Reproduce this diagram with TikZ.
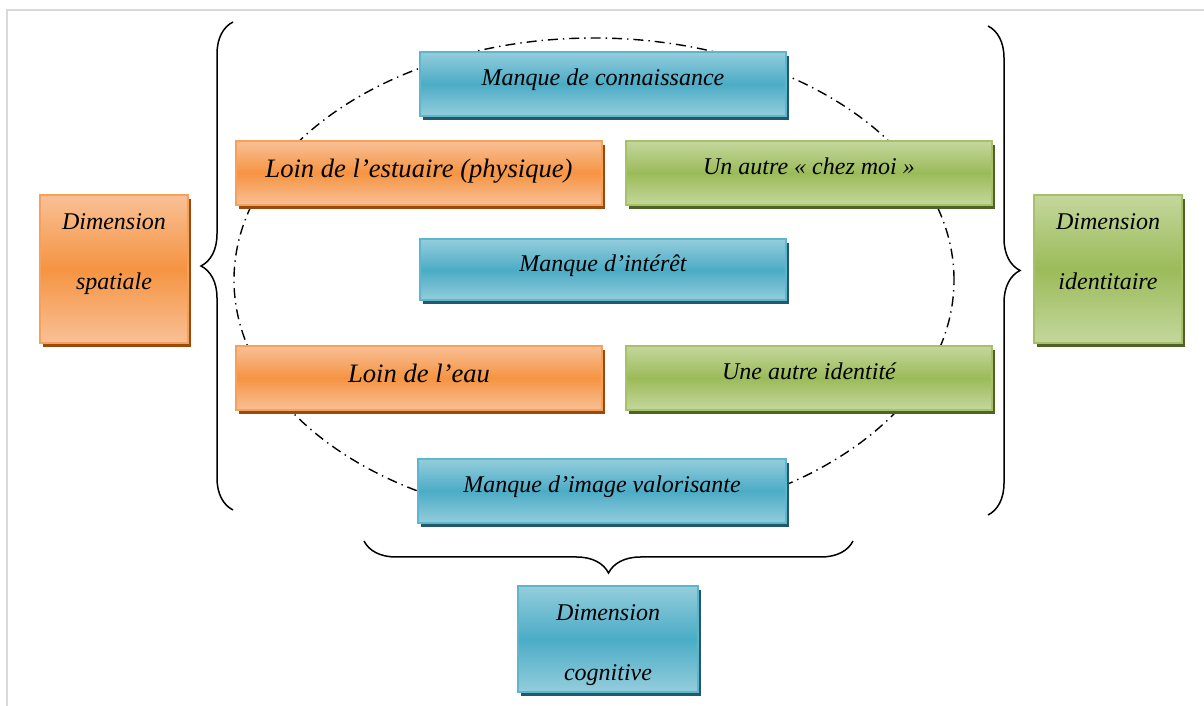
\documentclass[tikz,border=0pt]{standalone}
\usepackage{fontspec}
\setmainfont{Liberation Serif}
\usepackage{tikz}
\usetikzlibrary{decorations.pathreplacing,shadows}
\definecolor{DimOrange}{HTML}{F59442}
\definecolor{DimOrangeLight}{HTML}{F9C096}
\definecolor{DimOrangeLine}{HTML}{F7A05A}
\definecolor{DimOrangeDark}{HTML}{9A4A0C}
\definecolor{DimBlue}{HTML}{4BACC6}
\definecolor{DimBlueLight}{HTML}{94CDDC}
\definecolor{DimBlueLine}{HTML}{5DB6CD}
\definecolor{DimBlueDark}{HTML}{215968}
\definecolor{DimGreen}{HTML}{9BBB59}
\definecolor{DimGreenLight}{HTML}{C4D79D}
\definecolor{DimGreenLine}{HTML}{A5C266}
\definecolor{DimGreenDark}{HTML}{4F6228}
\definecolor{FrameGray}{HTML}{D9D9D9}

\begin{document}
\begin{tikzpicture}[
  x=0.5pt,
  y=0.5pt,
  font=\itshape\fontsize{12}{15}\selectfont,
  box/.style={
    draw,
    line width=1pt,
    align=center,
    inner sep=0pt,
    text=black,
    text height=9pt,
    text depth=7pt,
    minimum width=183pt,
    minimum height=32pt
  },
  orangebox/.style={box, draw=DimOrangeLine, top color=DimOrangeLight, bottom color=DimOrangeLight, middle color=DimOrange,
    general shadow={fill=DimOrangeDark, shadow xshift=1.5pt, shadow yshift=-2pt}},
  bluebox/.style={box, draw=DimBlueLine, top color=DimBlueLight, bottom color=DimBlueLight, middle color=DimBlue,
    general shadow={fill=DimBlueDark, shadow xshift=1.5pt, shadow yshift=-2pt}},
  greenbox/.style={box, draw=DimGreenLine, top color=DimGreenLight, bottom color=DimGreenLight, middle color=DimGreen,
    general shadow={fill=DimGreenDark, shadow xshift=1.5pt, shadow yshift=-2pt}},
  bigtext/.style={font=\itshape\fontsize{13.3}{16}\selectfont, text height=9.5pt, text depth=5pt},
  dimbox/.style={minimum width=74pt, minimum height=74pt, text height=47.5pt, text depth=26.5pt},
  cogbox/.style={minimum width=90pt, minimum height=53pt, text height=47.5pt, text depth=5.5pt},
  ellipsepath/.style={line width=0.7pt, dash pattern=on 5pt off 2.5pt on 0.7pt off 2.5pt},
  bracepath/.style={decorate, decoration={brace, amplitude=16pt}, line width=0.75pt}
]
\useasboundingbox (0,0) rectangle (1204,706);
\draw[FrameGray, line width=1pt] (7,0) -- (7,696) -- (1204,696);

% dotted oval behind the boxes
\draw[ellipsepath] (594,426) ellipse [x radius=180pt, y radius=121pt];

\node[bluebox] (connaissance) at (603,622) {Manque de connaissance};
\node[orangebox, bigtext] (estuaire) at (419,533) {Loin de l’estuaire (physique)};
\node[greenbox] (chezmoi) at (809,533) {Un autre « chez moi »};
\node[bluebox, minimum height=30.5pt] (interet) at (603,436) {Manque d’intérêt};
\node[orangebox, bigtext] (eau) at (419,328) {Loin de l’eau};
\node[greenbox] (identite) at (809,328) {Une autre identité};
\node[bluebox, minimum width=184pt] (image) at (602,215) {Manque d’image valorisante};

\node[orangebox, dimbox] (spatial) at (114,437) {Dimension\\[15pt]spatiale};
\node[greenbox, dimbox] (identitaire) at (1108,437) {Dimension\\[15pt]identitaire};
\node[bluebox, cogbox] (cognitive) at (608,67) {Dimension\\[15pt]cognitive};

\coordinate (leftlow) at (233,196);
\coordinate (lefthigh) at (233,684);
\coordinate (righthigh) at (988,680);
\coordinate (rightlow) at (988,191);
\coordinate (bottomright) at (853,165);
\coordinate (bottomleft) at (364,165);

\draw[bracepath] (leftlow) -- (lefthigh);
\draw[bracepath] (righthigh) -- (rightlow);
\draw[bracepath] (bottomright) -- (bottomleft);
\end{tikzpicture}
\end{document}
